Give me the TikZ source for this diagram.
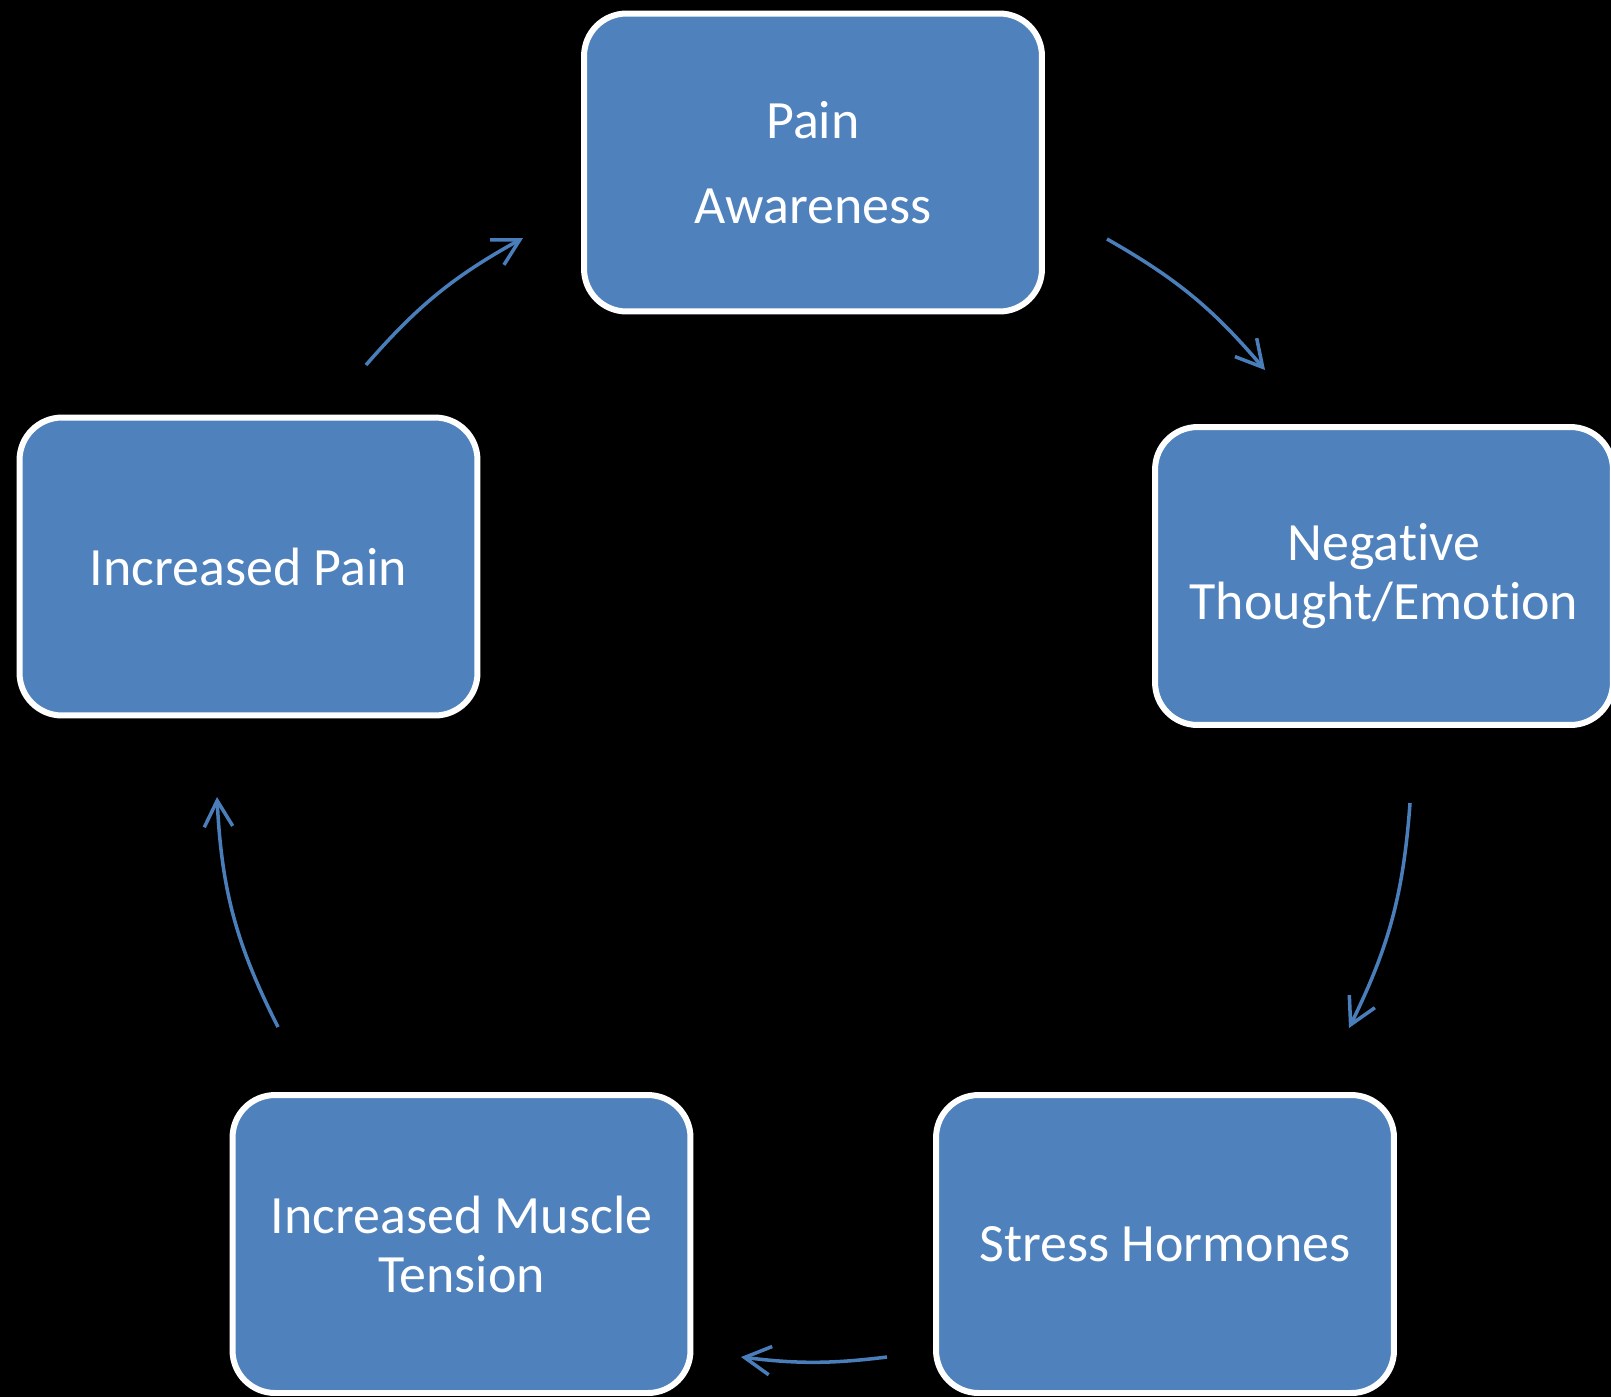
\documentclass[tikz,border=0pt]{standalone}
\usepackage{fontspec}
\setmainfont{Carlito}[Ligatures={NoCommon,NoRare,NoContextual}]
\usetikzlibrary{arrows.meta}
\definecolor{boxblue}{HTML}{4F81BD}
\definecolor{arrowblue}{HTML}{4A7EBB}
\begin{document}
\begin{tikzpicture}[x=0.02cm,y=-0.02cm,
  stage/.style={draw=white, line width=0.12cm, fill=boxblue, rounded corners=0.85cm,
    minimum width=9.16cm, minimum height=5.96cm, inner sep=0pt, align=center,
    text=white, font=\fontsize{30.7pt}{33.6pt}\selectfont},
  cyc/.style={draw=arrowblue, line width=2pt,
    -{Straight Barb[length=0.52cm,width=0.57cm]}, bend left=#1}]
\fill[black] (0,0) rectangle (1611,1397);
\useasboundingbox (0,0) rectangle (1611,1397);

\node[stage] (pa) at (813,162.5) {Pain\\[0.52cm]Awareness};
\node[stage] (nt) at (1384,576) {Negative\\Thought/Emotion};
\node[stage] (sh) at (1165,1244) {Stress Hormones};
\node[stage] (imt) at (461.5,1244) {Increased Muscle\\Tension};
\node[stage] (ip) at (248.5,566.5) {Increased Pain};

\coordinate (a1s) at (1107,239);  \coordinate (a1e) at (1265,370);
\coordinate (a2s) at (1410,803);  \coordinate (a2e) at (1349,1028);
\coordinate (a3s) at (887,1357);  \coordinate (a3e) at (741,1357);
\coordinate (a4s) at (278,1027);  \coordinate (a4e) at (217,797);
\coordinate (a5s) at (366,365);   \coordinate (a5e) at (523,238);

\draw[cyc=10] (a1s) to (a1e);
\draw[cyc=11] (a2s) to (a2e);
\draw[cyc=7] (a3s) to (a3e);
\draw[cyc=12] (a4s) to (a4e);
\draw[cyc=10] (a5s) to (a5e);
\end{tikzpicture}
\end{document}
